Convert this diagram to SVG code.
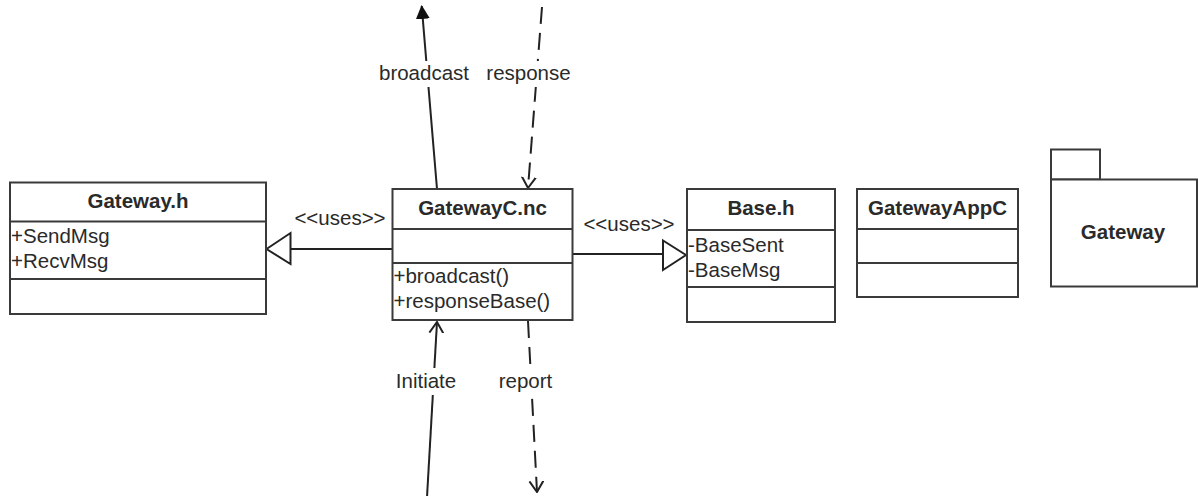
<svg xmlns="http://www.w3.org/2000/svg" width="1198" height="496" viewBox="0 0 1198 496">
<style>
.box{fill:#fff;stroke:#3a3a3a;stroke-width:2}
.div{stroke:#3a3a3a;stroke-width:2}
.t{font-family:"Liberation Sans",Arial,sans-serif;font-size:20.5px;fill:#2a2a2a}
.b{font-weight:bold;text-anchor:middle}
.c{text-anchor:middle}
.ln{fill:none;stroke:#222;stroke-width:2}
.dash{stroke-dasharray:17 9}
.lbl{fill:#fff;stroke:none}
</style>
<defs>
<marker id="filled" viewBox="0 0 14 14" refX="13" refY="7" markerWidth="14" markerHeight="14" markerUnits="userSpaceOnUse" orient="auto">
<path d="M0,0 L14,7 L0,14 Z" fill="#111"/>
</marker>
<marker id="open" viewBox="0 0 12 16" refX="11" refY="8" markerWidth="12" markerHeight="16" markerUnits="userSpaceOnUse" orient="auto">
<path d="M0,1 L11,8 L0,15" fill="none" stroke="#222" stroke-width="2"/>
</marker>
</defs>

<g id="connectors">
<!-- GatewayC.nc uses Gateway.h -->
<line class="ln" x1="392" y1="249" x2="290.5" y2="249"/>
<polygon points="266.5,249 290.5,233 290.5,264" fill="#fff" stroke="#222" stroke-width="2"/>
<text class="t c" x="340" y="225">&lt;&lt;uses&gt;&gt;</text>
<!-- GatewayC.nc uses Base.h -->
<line class="ln" x1="573" y1="254" x2="663" y2="254"/>
<polygon points="686,255 663,240.5 663,270" fill="#fff" stroke="#222" stroke-width="2"/>
<text class="t c" x="629" y="231">&lt;&lt;uses&gt;&gt;</text>
<!-- broadcast -->
<line class="ln" x1="437" y1="189" x2="421.7" y2="6" marker-end="url(#filled)"/>
<rect class="lbl" x="376" y="61" width="96" height="26"/>
<text class="t c" x="424" y="80">broadcast</text>
<!-- response -->
<line class="ln dash" x1="542" y1="7" x2="528" y2="188" marker-end="url(#open)"/>
<rect class="lbl" x="483" y="61" width="91" height="26"/>
<text class="t c" x="528.5" y="80">response</text>
<!-- Initiate -->
<line class="ln" x1="427" y1="497" x2="437" y2="322" marker-end="url(#open)"/>
<rect class="lbl" x="394" y="368" width="64" height="27"/>
<text class="t c" x="426" y="388">Initiate</text>
<!-- report -->
<line class="ln dash" x1="528" y1="321" x2="537" y2="492" marker-end="url(#open)"/>
<rect class="lbl" x="496" y="368" width="59" height="27"/>
<text class="t c" x="525.5" y="388">report</text>
</g>

<g id="gateway_h">
<rect class="box" x="10" y="182.5" width="256" height="131.5"/>
<line class="div" x1="10" y1="221.5" x2="266" y2="221.5"/>
<line class="div" x1="10" y1="279" x2="266" y2="279"/>
<text class="t b" x="138" y="208">Gateway.h</text>
<text class="t" x="11" y="243">+SendMsg</text>
<text class="t" x="11" y="268">+RecvMsg</text>
</g>

<g id="gatewayc_nc">
<rect class="box" x="392.5" y="189" width="180" height="131"/>
<line class="div" x1="392.5" y1="229" x2="572.5" y2="229"/>
<line class="div" x1="392.5" y1="263" x2="572.5" y2="263"/>
<text class="t b" x="482.5" y="215">GatewayC.nc</text>
<text class="t" x="393.5" y="283">+broadcast()</text>
<text class="t" x="393.5" y="308">+responseBase()</text>
</g>

<g id="base_h">
<rect class="box" x="687" y="189" width="148" height="133"/>
<line class="div" x1="687" y1="230" x2="835" y2="230"/>
<line class="div" x1="687" y1="287" x2="835" y2="287"/>
<text class="t b" x="761" y="215">Base.h</text>
<text class="t" x="688" y="252">-BaseSent</text>
<text class="t" x="688" y="277">-BaseMsg</text>
</g>

<g id="gatewayappc">
<rect class="box" x="857" y="189" width="161" height="108"/>
<line class="div" x1="857" y1="229" x2="1018" y2="229"/>
<line class="div" x1="857" y1="263" x2="1018" y2="263"/>
<text class="t b" x="937.5" y="215">GatewayAppC</text>
</g>

<g id="gateway_pkg">
<rect class="box" x="1051" y="149.5" width="49" height="30"/>
<rect class="box" x="1051" y="179.5" width="146" height="107"/>
<text class="t b" x="1123" y="239">Gateway</text>
</g>
</svg>
